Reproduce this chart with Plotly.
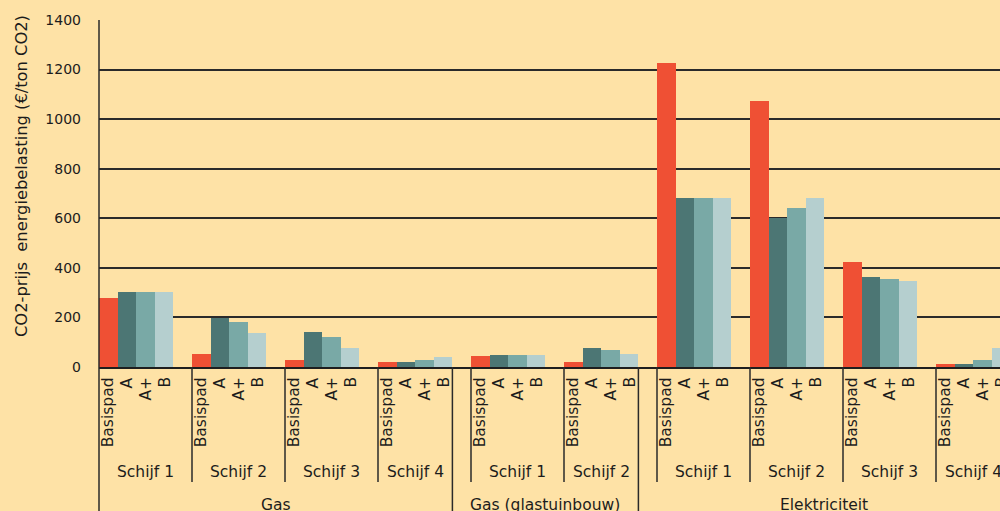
import plotly.graph_objects as go

# ---------------- data ----------------
series_names = ["Basispad", "A", "A+", "B"]
group_names = ["Gas"] * 4 + ["Gas (glastuinbouw)"] * 2 + ["Elektriciteit"] * 4
schijf_names = ["Schijf 1", "Schijf 2", "Schijf 3", "Schijf 4",
                "Schijf 1", "Schijf 2",
                "Schijf 1", "Schijf 2", "Schijf 3", "Schijf 4"]
basispad = [278, 54, 29, 22, 46, 21, 1225, 1072, 424, 14]
a_vals = [303, 198, 142, 21, 50, 75, 683, 600, 365, 14]
aplus_vals = [303, 182, 120, 27, 50, 69, 683, 640, 357, 30]
b_vals = [303, 136, 75, 40, 50, 52, 683, 683, 347, 75]
y_ticks = [0, 200, 400, 600, 800, 1000, 1200, 1400]
y_title = "CO2-prijs  energiebelasting (€/ton CO2)"

# ---------------- styling / layout ----------------
colors = ["#EF5034", "#4C7674", "#79A9A6", "#B5CFCF"]
bg = "#FEE2A6"
ink = "#1c1c1c"
FONT = "DejaVu Sans"
W, H = 1000, 511
ML, MR, MT, MB = 99, 0, 20, 144
plot_w = W - ML - MR
plot_h = H - MT - MB
SLOT = 5            # 4 bars + 1 gap, in x units
UNIT_PX = 18.6
XMAX = plot_w / UNIT_PX

def py(p):  # pixel y -> paper y
    return (H - MB - p) / plot_h

def px(u):  # x units -> paper x
    return u / XMAX

values = [basispad, a_vals, aplus_vals, b_vals]
n = len(schijf_names)

fig = go.Figure()
for j, (name, vals) in enumerate(zip(series_names, values)):
    fig.add_trace(go.Bar(
        x=[SLOT * k + j + 0.5 for k in range(n)],
        y=vals, width=1.0, name=name,
        marker=dict(color=colors[j], line=dict(width=0)),
        showlegend=False,
    ))

annotations = []
shapes = []

# rotated series labels under each bar
for k in range(n):
    for j, name in enumerate(series_names):
        annotations.append(dict(
            x=px(SLOT * k + j + 0.5), y=py(376), xref="paper", yref="paper",
            text=name, textangle=-90, showarrow=False,
            xanchor="center", yanchor="top",
            font=dict(family=FONT, size=15.5, color=ink), borderpad=0,
        ))

# group extents
group_order = []
for g in group_names:
    if g not in group_order:
        group_order.append(g)
group_last = {g: max(i for i, gg in enumerate(group_names) if gg == g) for g in group_order}

# schijf labels and minor lines
for k in range(n):
    left = SLOT * k
    right = SLOT * k + 4 if group_last[group_names[k]] == k else SLOT * (k + 1)
    annotations.append(dict(
        x=px((left + right) / 2), y=py(472), xref="paper", yref="paper",
        text=schijf_names[k], showarrow=False, xanchor="center", yanchor="middle",
        font=dict(family=FONT, size=15.5, color=ink),
    ))
    if k > 0:
        shapes.append(dict(type="line", xref="paper", yref="paper",
                           x0=px(left), x1=px(left), y0=0, y1=py(482),
                           line=dict(color="#2a2a2a", width=1.5)))

# group labels and major lines
prev_edge = 0
for gi, g in enumerate(group_order):
    right = SLOT * group_last[g] + 4
    annotations.append(dict(
        x=px((prev_edge + right) / 2), y=py(505), xref="paper", yref="paper",
        text=g, showarrow=False, xanchor="center", yanchor="middle",
        font=dict(family=FONT, size=15.5, color=ink),
    ))
    if gi < len(group_order) - 1:
        shapes.append(dict(type="line", xref="paper", yref="paper",
                           x0=px(right), x1=px(right), y0=0, y1=py(530),
                           line=dict(color="#2a2a2a", width=1.5)))
    prev_edge = right

# left axis line extending down through label table
shapes.append(dict(type="line", xref="paper", yref="paper",
                   x0=0, x1=0, y0=1, y1=py(530),
                   line=dict(color="#2a2a2a", width=1.5)))

# y axis title
annotations.append(dict(
    x=(21 - ML) / plot_w, y=py(176), xref="paper", yref="paper",
    text=y_title, textangle=-90, showarrow=False,
    xanchor="center", yanchor="middle",
    font=dict(family=FONT, size=16.3, color=ink),
))

fig.update_layout(
    width=W, height=H, autosize=False,
    margin=dict(l=ML, r=MR, t=MT, b=MB, pad=0),
    paper_bgcolor=bg, plot_bgcolor=bg,
    barmode="overlay", bargap=0,
    font=dict(family=FONT, size=15, color=ink),
    annotations=annotations, shapes=shapes,
    xaxis=dict(range=[0, XMAX], showticklabels=False, showgrid=False,
               zeroline=False, showline=True, linecolor="#1e1e1e", linewidth=2,
               ticks="", fixedrange=True),
    yaxis=dict(range=[0, 1400], tickvals=y_ticks, showgrid=True,
               gridcolor="#2a2a2a", gridwidth=1.5, zeroline=False,
               showline=False, ticks="", ticklabelstandoff=17,
               tickfont=dict(family=FONT, size=14, color=ink), fixedrange=True),
)

fig.write_html(
    "out.html",
    config={"displayModeBar": False},
    post_script="document.body.style.margin='0';document.body.style.padding='0';"
                "document.body.style.overflow='hidden';document.body.style.background='" + bg + "';",
)
